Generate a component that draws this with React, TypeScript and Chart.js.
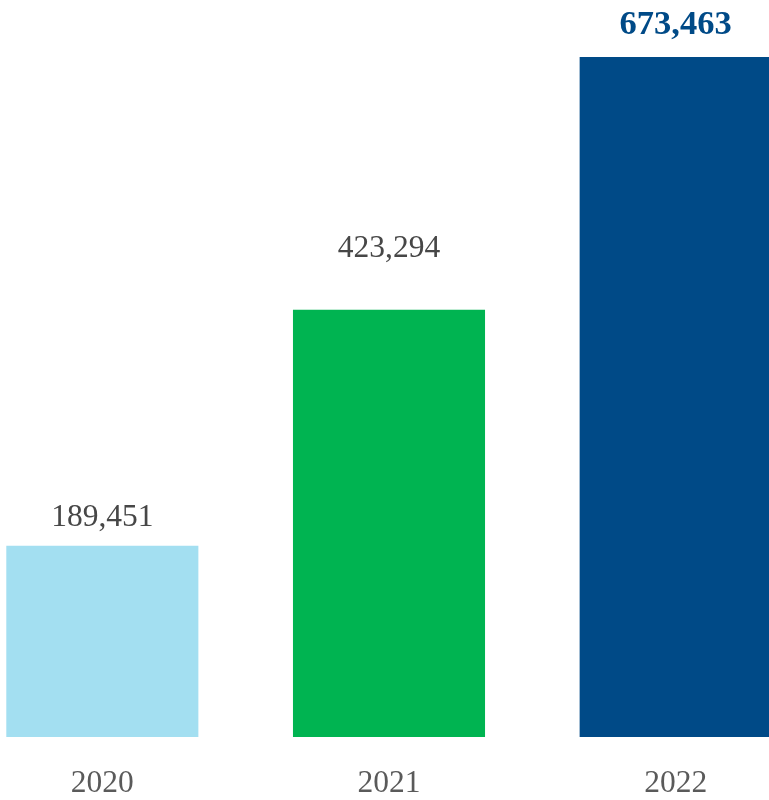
import React, { useEffect, useRef } from "react";
import { Chart, registerables } from "chart.js";

Chart.register(...registerables);

const categories = ["2020", "2021", "2022"];
const values = [189451, 423294, 673463];
const barColors = ["#a3dff1", "#00b451", "#004a87"];

// layout constants (not data)
const labelGaps = [20, 53, 23];
const highlightIndex = 2;

export default function App() {
  const ref = useRef<HTMLCanvasElement | null>(null);

  useEffect(() => {
    if (!ref.current) return;
    const labelPlugin = {
      id: "valueLabels",
      afterDatasetsDraw(chart: any) {
        const ctx = chart.ctx;
        const meta = chart.getDatasetMeta(0);
        ctx.save();
        ctx.textAlign = "center";
        ctx.textBaseline = "alphabetic";
        meta.data.forEach((bar: any, i: number) => {
          const isHi = i === highlightIndex;
          ctx.font = isHi
            ? "bold 34.5px 'Liberation Serif', serif"
            : "31.5px 'Liberation Serif', serif";
          ctx.fillStyle = isHi ? "#004a87" : "#474747";
          ctx.fillText(values[i].toLocaleString("en-US"), bar.x, bar.y - labelGaps[i]);
          ctx.font = "31.5px 'Liberation Serif', serif";
          ctx.fillStyle = "#5a5a5a";
          ctx.fillText(categories[i], bar.x, chart.chartArea.bottom + 55);
        });
        ctx.restore();
      },
    };
    const chart = new Chart(ref.current, {
      type: "bar",
      data: {
        labels: categories,
        datasets: [
          {
            data: values,
            backgroundColor: barColors,
            borderWidth: 0,
            barPercentage: 0.67,
            categoryPercentage: 1,
          },
        ],
      },
      options: {
        animation: false,
        responsive: true,
        maintainAspectRatio: false,
        layout: { padding: { top: 0, bottom: 63, left: 0, right: 0 } },
        plugins: { legend: { display: false }, tooltip: { enabled: false } },
        scales: {
          x: { display: false, offset: true },
          y: { display: false, min: 0, max: 730000 },
        },
      },
      plugins: [labelPlugin],
    });
    return () => chart.destroy();
  }, []);

  return (
    <div
      style={{
        position: "fixed",
        left: 0,
        top: 0,
        width: 769,
        height: 800,
        overflow: "hidden",
        background: "#fff",
      }}
    >
      <div style={{ position: "absolute", left: -41, top: 0, width: 860, height: 800 }}>
        <canvas ref={ref} />
      </div>
    </div>
  );
}
